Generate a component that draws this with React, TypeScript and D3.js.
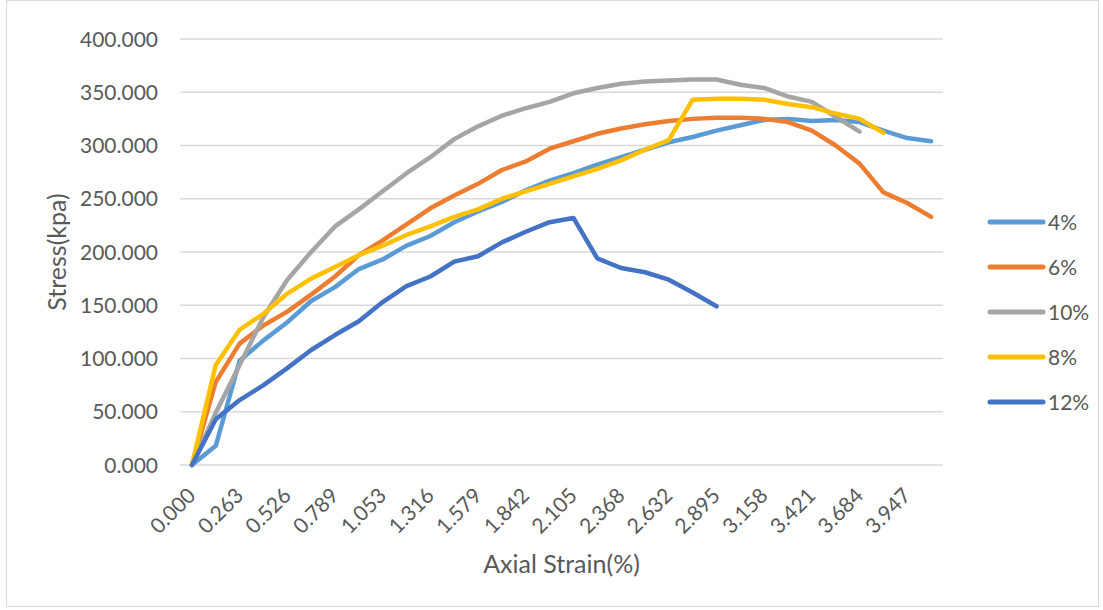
import React from "react";
import * as d3 from "d3";

const categories = [
  "0.000", "0.132", "0.263", "0.395", "0.526", "0.658", "0.789", "0.921",
  "1.053", "1.184", "1.316", "1.447", "1.579", "1.711", "1.842", "1.974",
  "2.105", "2.237", "2.368", "2.500", "2.632", "2.763", "2.895", "3.026",
  "3.158", "3.289", "3.421", "3.553", "3.684", "3.816", "3.947", "4.079",
];

const xTickLabels = [
  "0.000", "0.263", "0.526", "0.789", "1.053", "1.316", "1.579", "1.842",
  "2.105", "2.368", "2.632", "2.895", "3.158", "3.421", "3.684", "3.947",
];

const yTicks = [0, 50, 100, 150, 200, 250, 300, 350, 400];

const s4 = [
  0, 18, 98, 117, 134, 154, 167, 184, 193, 206, 215, 228, 238, 247, 258, 267,
  274, 282, 289, 296, 303, 308, 314, 319, 324, 325, 323, 324, 322, 314, 307, 304,
];
const s6 = [
  0, 78, 114, 131, 144, 160, 177, 197, 211, 226, 241, 253, 264, 277, 285, 297,
  304, 311, 316, 320, 323, 325, 326, 326, 325, 322, 314, 300, 283, 256, 246, 233,
];
const s10 = [
  0, 49, 94, 139, 174, 200, 224, 240, 257, 274, 289, 306, 318, 328, 335, 341,
  349, 354, 358, 360, 361, 362, 362, 357, 354, 346, 341, 327, 313,
];
const s8 = [
  0, 94, 127, 142, 161, 175, 186, 197, 206, 216, 224, 233, 240, 250, 257, 264,
  271, 278, 286, 296, 305, 343, 344, 344, 343, 339, 336, 330, 325, 312,
];
const s12 = [
  0, 43, 61, 75, 91, 108, 122, 135, 153, 168, 177, 191, 196, 209, 219, 228,
  232, 194, 185, 181, 174, 162, 149,
];

const seriesNames = ["4%", "6%", "10%", "8%", "12%"];
const seriesValues = [s4, s6, s10, s8, s12];
const seriesColors = ["#5B9BD5", "#ED7D31", "#A5A5A5", "#FFC000", "#4472C4"];

const FONT = "Lato, 'Open Sans', sans-serif";
const TEXT = "#595959";

export default function App() {
  const W = 1103;
  const H = 610;
  const x = d3.scaleBand<string>().domain(categories).range([180, 943]);
  const y = d3.scaleLinear().domain([0, 400]).range([465, 39]);
  const px = (c: string) => (x(c) as number) + x.bandwidth() / 2;

  const line = d3
    .line<number>()
    .x((_, i) => px(categories[i]))
    .y((d) => y(d));

  const legendY = d3.scalePoint<string>().domain(seriesNames).range([222, 402]);

  return (
    <svg
      width={W}
      height={H}
      style={{ position: "absolute", left: 0, top: 0, background: "#fff" }}
      fontFamily={FONT}
    >
      <rect x={6.5} y={0.5} width={1092} height={606} fill="#fff" stroke="#D9D9D9" strokeWidth={1} />
      {yTicks.map((t) => (
        <g key={t}>
          <line x1={180} x2={943} y1={y(t)} y2={y(t)} stroke="#D9D9D9" strokeWidth={1.5} />
          <text x={158} y={y(t)} dy="0.36em" textAnchor="end" fontSize={21} fill={TEXT}>
            {d3.format(".3f")(t)}
          </text>
        </g>
      ))}
      {xTickLabels.map((c) => (
        <text
          key={c}
          transform={`translate(${px(c) + 5},${497}) rotate(-45)`}
          textAnchor="end"
          fontSize={21}
          fill={TEXT}
        >
          {c}
        </text>
      ))}
      {seriesValues.map((vals, k) => (
        <path
          key={seriesNames[k]}
          d={line(vals) as string}
          fill="none"
          stroke={seriesColors[k]}
          strokeWidth={4.5}
          strokeLinejoin="round"
          strokeLinecap="round"
        />
      ))}
      <text x={561.5} y={573} textAnchor="middle" fontSize={25} fill={TEXT}>
        Axial Strain(%)
      </text>
      <text transform="translate(66,252) rotate(-90)" textAnchor="middle" fontSize={25} fill={TEXT}>
        Stress(kpa)
      </text>
      {seriesNames.map((n, k) => (
        <g key={n}>
          <line
            x1={990}
            x2={1043}
            y1={legendY(n)}
            y2={legendY(n)}
            stroke={seriesColors[k]}
            strokeWidth={5}
            strokeLinecap="round"
          />
          <text x={1048} y={legendY(n)} dy="0.36em" fontSize={21} fill={TEXT}>
            {n}
          </text>
        </g>
      ))}
    </svg>
  );
}
